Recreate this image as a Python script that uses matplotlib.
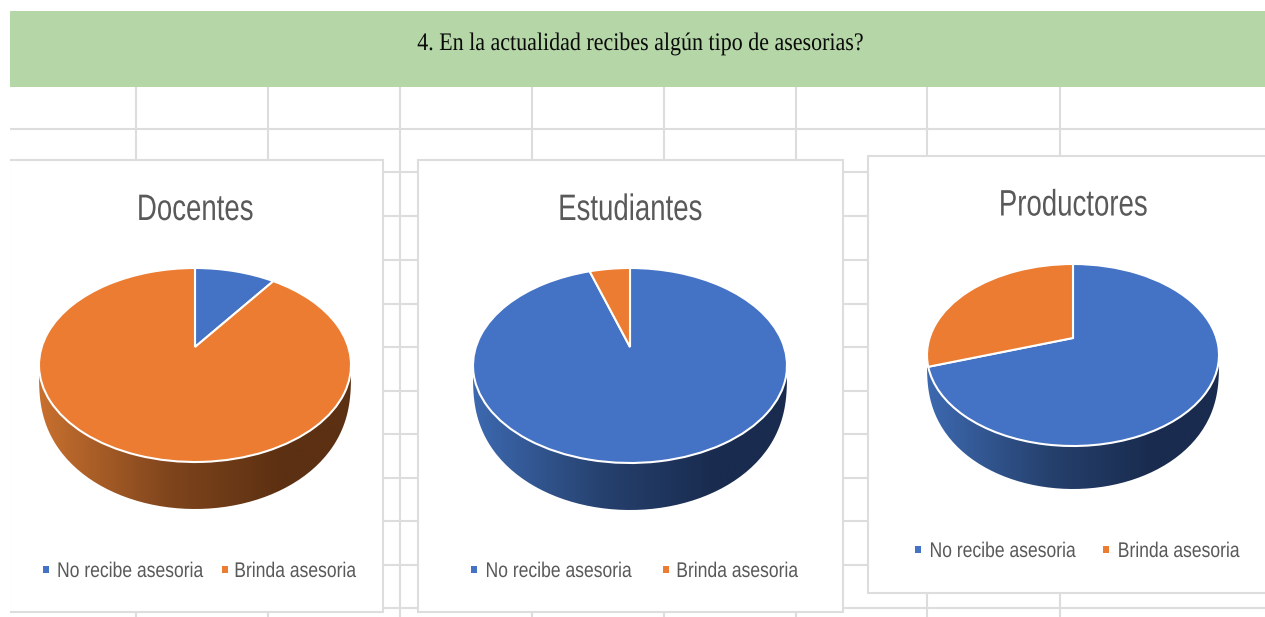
import matplotlib
matplotlib.use("Agg")
import numpy as np
import matplotlib.pyplot as plt
from matplotlib.colors import LinearSegmentedColormap
from matplotlib.patches import Rectangle, PathPatch
from matplotlib.path import Path
from matplotlib.patheffects import AbstractPathEffect
from matplotlib.transforms import Transform, Affine2D

# ---- data ----
question = "4. En la actualidad recibes algún tipo de asesorias?"
groups = ["Docentes", "Estudiantes", "Productores"]
categories = ["No recibe asesoria", "Brinda asesoria"]
docentes = [10, 90]
estudiantes = [95, 5]
productores = [70, 30]

# ---- style / layout (pixels of the page) ----
W, H = 1265, 617
BLUE, ORANGE = "#4472C4", "#EB7C31"
GRID = "#DDDDDD"
TXT = "#595959"
SANS = ["Liberation Sans", "DejaVu Sans"]
grid_x = [136, 268, 400, 532, 664, 796, 927, 1060]
grid_y = [129, 172, 216, 260, 304, 347, 391, 434, 478, 521, 565, 608]
cards = [(9, 160, 374, 452), (418, 160, 425, 452), (868, 156, 410, 437)]
# cx, cy, rx, ry of the top ellipse; apex height; depth of the side
pie_geo = [(195, 365, 156, 97, 347, 47),
           (630, 365.5, 157, 97.5, 347, 47),
           (1073, 355, 146, 91, 338, 43)]
title_pos = [(195, 210.5), (630, 210.5), (1073, 206)]
# marker x, text centre x for both entries, then the row's y
legend_pos = [(46, 130, 224.5, 295, 571.5), (474, 558.5, 666, 737, 571.5), (918, 1002.5, 1106, 1178.5, 551.5)]
side_cmaps = [
    LinearSegmentedColormap.from_list("o", ["#C8702F", "#8B4C20", "#5C3012", "#5C3012"]),
    LinearSegmentedColormap.from_list("b", ["#3D69B0", "#2A4878", "#192B4E", "#192B4E"]),
    LinearSegmentedColormap.from_list("b2", ["#3D69B0", "#2A4878", "#192B4E", "#192B4E"]),
]
side_stops = [0, 0.42, 0.78, 1]


class Squeeze(AbstractPathEffect):
    """Draws text narrower about a page x, for a condensed look."""

    def __init__(self, sx, x0):
        super().__init__()
        self.sx, self.x0 = sx, x0

    def draw_path(self, renderer, gc, tpath, affine, rgbFace=None):
        sq = Affine2D().translate(-self.x0, 0).scale(self.sx, 1).translate(self.x0, 0)
        renderer.draw_path(gc, tpath, affine + sq, rgbFace)


class Perspective(Transform):
    """Maps the unit circle of a pie onto a tilted ellipse with off-centre apex."""
    input_dims = output_dims = 2
    is_affine = False

    def __init__(self, cx, cy, rx, ry, apex):
        super().__init__()
        up, down = apex - (cy - ry), (cy + ry) - apex
        self.k = (down - up) / (down + up)
        self.a = up * (1 + self.k)
        self.x0, self.y0 = cx, apex
        ym = (cy - apex) / self.a * -1
        y = ym / (1 - self.k * ym)
        self.b = rx * (1 + self.k * y) / np.sqrt(1 - y * y)

    def transform_non_affine(self, v):
        v = np.asarray(v, float)
        w = 1 + self.k * v[:, 1]
        return np.column_stack([self.x0 + self.b * v[:, 0] / w,
                                self.y0 - self.a * v[:, 1] / w])


fig = plt.figure(figsize=(W / 100, H / 100), dpi=100, facecolor="white")
ax = fig.add_axes([0, 0, 1, 1])

# sheet grid
for x in grid_x:
    ax.plot([x, x], [87, H], color=GRID, lw=1.5, zorder=1, solid_capstyle="butt")
for y in grid_y:
    ax.plot([10, W], [y, y], color=GRID, lw=1.5, zorder=1, solid_capstyle="butt")

# banner
ax.add_patch(Rectangle((10, 11), W - 10, 76, fc="#B5D6A7", ec="none", zorder=2))
ax.text(640, 44, question, ha="center", va="center", fontsize=18.2, color="#0A0A0A",
        family=["Liberation Serif", "DejaVu Serif"], zorder=3,
        path_effects=[Squeeze(0.87, 640)])

# cards
for x, y, w, h in cards:
    ax.add_patch(Rectangle((x, y), w, h, fc="white", ec=GRID, lw=1.5, zorder=3))

t = np.linspace(0, np.pi, 120)
grad = np.linspace(0, 1, 256)[None, :]
series = [docentes, estudiantes, productores]
for i, vals in enumerate(series):
    cx, cy, rx, ry, apex, depth = pie_geo[i]
    # side wall
    ex, ey = cx - rx * np.cos(t), cy + ry * np.sin(t)
    verts = np.r_[np.c_[ex, ey], np.c_[ex[::-1], ey[::-1] + depth * np.sin(t[::-1]) ** 0.35]]
    clip = PathPatch(Path(verts), transform=ax.transData, fc="none", ec="none")
    ax.add_patch(clip)
    cm = LinearSegmentedColormap.from_list(f"s{i}", list(zip(side_stops, side_cmaps[i](side_stops))))
    im = ax.imshow(grad, extent=(cx - rx, cx + rx, cy + ry + depth, cy - ry), cmap=cm,
                   vmin=0, vmax=1, aspect="auto", zorder=4)
    im.set_clip_path(clip)
    # top face
    wedges, _ = ax.pie(vals, colors=[BLUE, ORANGE], startangle=90, counterclock=False,
                       wedgeprops=dict(edgecolor="white", linewidth=1.5, zorder=5))
    persp = Perspective(cx, cy, rx, ry, apex)
    for wd in wedges:
        wd.set_transform(persp + ax.transData)
        wd.set_zorder(5)
    # title
    tx, ty = title_pos[i]
    ax.text(tx, ty, groups[i], ha="center", va="center", fontsize=26.5, color=TXT,
            family=SANS, zorder=6, path_effects=[Squeeze(0.75, tx)])
    # legend
    m1, t1, m2, t2, ly = legend_pos[i]
    for mx, lx, col, lab in ((m1, t1, BLUE, categories[0]), (m2, t2, ORANGE, categories[1])):
        ax.add_patch(Rectangle((mx - 3, ly - 5.5), 6, 7, fc=col, ec="none", zorder=6))
        ax.text(lx, ly, lab, ha="center", va="center", fontsize=15.3, color=TXT,
                family=SANS, zorder=6, path_effects=[Squeeze(0.825, lx)])

# white margin left of the sheet
ax.add_patch(Rectangle((0, 0), 10, H, fc="white", ec="none", zorder=7))

ax.set_aspect("auto")
ax.set_xlim(0, W)
ax.set_ylim(H, 0)
ax.set_frame_on(False)
ax.set_xticks([])
ax.set_yticks([])
fig.savefig("out.png", dpi=100, facecolor="white")
